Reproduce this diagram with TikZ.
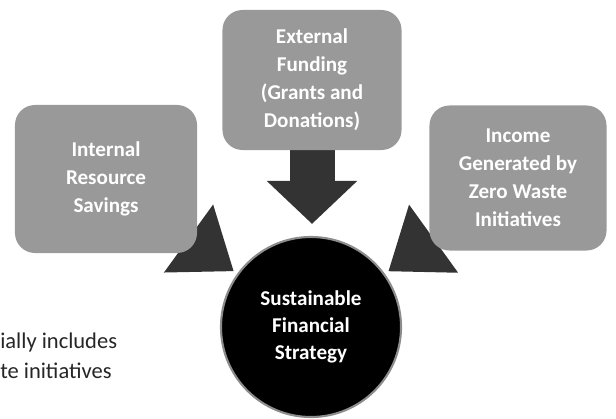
\documentclass[tikz,border=0pt]{standalone}
\usepackage{fontspec}
\setmainfont{Carlito}
\usetikzlibrary{arrows.meta,backgrounds}

\tikzset{
  source/.style={rectangle, rounded corners=0.5cm, fill=black!40, text=white,
    font=\bfseries\fontsize{15}{20}\selectfont, align=center},
  hub/.style={circle, fill=black, draw=black!45, line width=1.5pt, text=white,
    font=\bfseries\fontsize{15}{19}\selectfont, align=center,
    minimum size=4.5cm, inner sep=0pt},
  feed/.style={black!80, line width=24pt, -{Triangle[length=1.4cm, width=2cm]}},
  note/.style={anchor=base west, inner sep=0pt, text=black!85,
    font=\fontsize{16}{19}\selectfont}
}

\begin{document}
\begin{tikzpicture}[x=0.025cm, y=-0.025cm]

\useasboundingbox (0, 0) rectangle (616, 419);

\node[source, minimum width=4.55cm, minimum height=3.7cm] (internal) at (106, 179)
  {Internal\\Resource\\Savings};
\node[source, minimum width=4.475cm, minimum height=3.5cm] (external) at (312, 80)
  {External\\Funding\\(Grants and\\Donations)};
\node[source, minimum width=4.425cm, minimum height=3.625cm] (income) at (518, 178)
  {Income\\Generated by\\Zero Waste\\Initiatives};
\node[hub] (strategy) at (311, 327) {Sustainable\\Financial\\Strategy};

\begin{scope}[on background layer]
\draw[feed, line width=32pt, -{Triangle[length=1.075cm, width=2.2cm]},
  shorten >=0.3cm] (external) -- (external |- strategy.north);
\draw[feed, shorten >=0.1cm] (internal) -- (strategy);
\draw[feed, shorten >=0.1cm] (income) -- (strategy);
\end{scope}

\node[note] (noteA) at (0, 348) {ially includes};
\node[note] (noteB) at (0, 378) {te initiatives};

\end{tikzpicture}
\end{document}
